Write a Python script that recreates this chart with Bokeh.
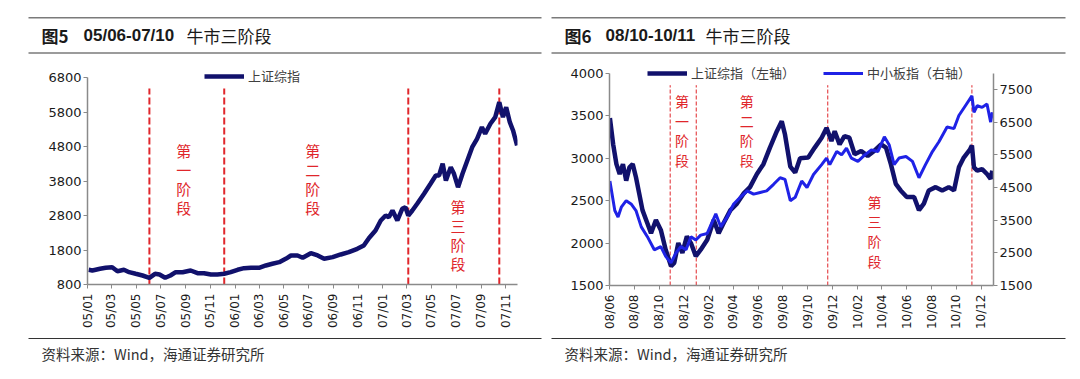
import pandas as pd
from bokeh.plotting import figure
from bokeh.models import Range1d, LinearAxis, FixedTicker, Legend, DatetimeTickFormatter
from bokeh.layouts import row, column
from bokeh.core.properties import value
from bokeh.embed import file_html
from bokeh.resources import INLINE

# ---------------- data: chart 5 (SSE composite 2005-2007) ----------------
sse_0507_dates = [
    "2005-01-04", "2005-01-13", "2005-02-01", "2005-02-15", "2005-03-03", "2005-03-16", "2005-04-01",
    "2005-04-14", "2005-04-30", "2005-05-17", "2005-06-03", "2005-06-17", "2005-06-28", "2005-07-12",
    "2005-07-25", "2005-08-07", "2005-08-24", "2005-09-13", "2005-09-30", "2005-10-16", "2005-11-02",
    "2005-11-18", "2005-12-05", "2005-12-21",
    "2006-01-07", "2006-01-23", "2006-02-09", "2006-03-01", "2006-03-18", "2006-04-03", "2006-04-20",
    "2006-05-06", "2006-05-19", "2006-06-04", "2006-06-17", "2006-07-07", "2006-07-24", "2006-08-09",
    "2006-08-30", "2006-09-19", "2006-10-09", "2006-10-30", "2006-11-15", "2006-11-28", "2006-12-14",
    "2006-12-27",
    "2007-01-08", "2007-01-16", "2007-01-25", "2007-02-06", "2007-02-18", "2007-02-26", "2007-03-05",
    "2007-03-15", "2007-03-27", "2007-04-13", "2007-04-29", "2007-05-12", "2007-05-20", "2007-05-29",
    "2007-06-06", "2007-06-18", "2007-06-26", "2007-07-06", "2007-07-17", "2007-07-29", "2007-08-10",
    "2007-08-22", "2007-09-03", "2007-09-11", "2007-09-24", "2007-10-06", "2007-10-16", "2007-10-25",
    "2007-11-02", "2007-11-11", "2007-11-19", "2007-11-29",
]
sse_0507_values = [
    1226, 1206, 1255, 1284, 1302, 1186, 1226, 1157, 1110, 1061, 994, 1110, 1090, 994,
    1061, 1157, 1157, 1206, 1128, 1128, 1090, 1090, 1110, 1157,
    1226, 1273, 1284, 1284, 1351, 1400, 1447, 1545, 1641, 1641, 1574, 1707, 1641, 1545,
    1593, 1670, 1736, 1835, 1931, 2150, 2365, 2655,
    2800, 2751, 2945, 2655, 2995, 3041, 2800, 2945, 3140, 3429, 3719, 3960, 3960, 4299,
    3815, 4201, 4009, 3621, 4009, 4395, 4780, 5024, 5360, 5169, 5459, 5650, 6085, 5650,
    5940, 5505, 5265, 4830,
]
chart5_x_ticks = ["05/01", "05/03", "05/05", "05/07", "05/09", "05/11",
                  "06/01", "06/03", "06/05", "06/07", "06/09", "06/11",
                  "07/01", "07/03", "07/05", "07/07", "07/09", "07/11"]
chart5_y_ticks = [800, 1800, 2800, 3800, 4800, 5800, 6800]
chart5_stage_dates = ["2005-06-03", "2005-12-05", "2007-03-05", "2007-10-16"]
stage_names = ["第一阶段", "第二阶段", "第三阶段"]

# ---------------- data: chart 6 (SSE vs SME board 2008-2010) ----------------
sse_0810_dates = [
    "2008-06-02", "2008-06-10", "2008-06-18", "2008-06-26", "2008-07-04", "2008-07-12", "2008-07-20",
    "2008-07-28", "2008-08-05", "2008-08-13", "2008-08-21", "2008-09-02", "2008-09-11", "2008-09-23",
    "2008-10-05", "2008-10-17", "2008-10-30", "2008-11-07", "2008-11-17", "2008-11-27", "2008-12-08",
    "2008-12-18", "2008-12-30",
    "2009-01-11", "2009-01-27", "2009-02-12", "2009-02-24", "2009-03-08", "2009-03-25", "2009-04-10",
    "2009-04-26", "2009-05-12", "2009-05-29", "2009-06-14", "2009-06-30", "2009-07-17", "2009-07-29",
    "2009-08-06", "2009-08-19", "2009-08-31", "2009-09-12", "2009-10-02", "2009-10-18", "2009-11-04",
    "2009-11-16", "2009-11-28", "2009-12-06", "2009-12-18", "2009-12-30",
    "2010-01-11", "2010-01-24", "2010-02-09", "2010-02-25", "2010-03-13", "2010-03-30", "2010-04-11",
    "2010-04-23", "2010-05-05", "2010-05-17", "2010-06-01", "2010-06-19", "2010-07-01", "2010-07-13",
    "2010-07-25", "2010-08-11", "2010-08-27", "2010-09-12", "2010-09-25", "2010-10-07", "2010-10-19",
    "2010-11-03", "2010-11-08", "2010-11-13", "2010-11-21", "2010-12-03", "2010-12-15", "2010-12-24",
    "2010-12-28",
]
sse_0810_values = [
    3473, 3163, 2930, 2814, 2930, 2736, 2892, 2930, 2775, 2582, 2388, 2233, 2116, 2271,
    2155, 1922, 1729, 1767, 2000, 1884, 2078, 2000, 1845,
    1922, 2039, 2271, 2116, 2233, 2388, 2465, 2582, 2659, 2814, 2930, 3125, 3318, 3434,
    3279, 2900, 2830, 3000, 3008, 3125, 3241, 3357, 3202, 3318, 3163, 3260,
    3241, 3047, 3085, 3027, 3085, 3163, 3125, 2930, 2698, 2620, 2543, 2543, 2388, 2465,
    2620, 2659, 2620, 2659, 2620, 2892, 3008, 3100, 3150, 2892, 2853, 2872, 2814, 2756,
    2853,
]
sme_0810_dates = [
    "2008-06-02", "2008-06-14", "2008-06-22", "2008-06-30", "2008-07-12", "2008-07-24", "2008-08-05",
    "2008-08-18", "2008-09-02", "2008-09-19", "2008-10-05", "2008-10-17", "2008-10-30", "2008-11-11",
    "2008-11-23", "2008-12-06", "2008-12-18", "2008-12-30",
    "2009-01-11", "2009-01-27", "2009-02-17", "2009-03-01", "2009-03-17", "2009-04-02", "2009-04-18",
    "2009-05-05", "2009-05-21", "2009-06-06", "2009-06-22", "2009-07-09", "2009-07-25", "2009-08-06",
    "2009-08-19", "2009-08-31", "2009-09-16", "2009-09-29", "2009-10-15", "2009-11-04", "2009-11-16",
    "2009-11-24", "2009-12-11", "2009-12-23",
    "2010-01-04", "2010-01-16", "2010-02-01", "2010-02-18", "2010-03-06", "2010-03-22", "2010-04-07",
    "2010-04-19", "2010-05-01", "2010-05-13", "2010-05-30", "2010-06-15", "2010-07-01", "2010-07-17",
    "2010-08-03", "2010-08-19", "2010-09-08", "2010-09-25", "2010-10-07", "2010-10-23", "2010-11-08",
    "2010-11-13", "2010-11-21", "2010-12-03", "2010-12-15", "2010-12-24", "2010-12-28",
]
sme_0810_values = [
    4700, 3797, 3598, 3899, 4098, 3998, 3797, 3297, 2996, 2593, 2693, 2394, 2192, 2493,
    2693, 2593, 2996, 2894,
    3044, 3095, 3697, 3297, 3598, 3998, 4200, 4399, 4299, 4350, 4399, 4600, 4802, 4751,
    4100, 4200, 4700, 4501, 4901, 5202, 5404, 5202, 5603, 5503,
    5705, 5404, 5302, 5503, 5654, 5603, 6054, 5804, 5202, 5404, 5454, 5302, 4802, 5202,
    5603, 5904, 6355, 6307, 6707, 7008, 7309, 6807, 7008, 6957, 7059, 6506, 6807,
]
chart6_x_ticks = ["08/06", "08/08", "08/10", "08/12", "09/02", "09/04", "09/06", "09/08",
                  "09/10", "09/12", "10/02", "10/04", "10/06", "10/08", "10/10", "10/12"]
chart6_left_ticks = [1500, 2000, 2500, 3000, 3500, 4000]
chart6_right_ticks = [1500, 2500, 3500, 4500, 5500, 6500, 7500]
chart6_right_max = 8000
chart6_stage_dates = ["2008-10-28", "2008-12-31", "2009-11-19", "2010-11-08"]

# ---------------- styling ----------------
CJK = "Noto Sans CJK SC"
TICK_FONT = "DejaVu Sans"
NAVY = "#11116c"
BLUE = "#1f22e6"
RED = "#e0262b"
AXIS = "#8a8a8a"


def tick_ts(labels):
    return [pd.Timestamp("20%s-%s-01" % (l[:2], l[3:])).timestamp() * 1000 for l in labels]


def style_axes(p):
    for ax in p.xaxis + p.yaxis:
        ax.axis_line_color = AXIS
        ax.axis_line_width = 1.5
        ax.major_tick_line_color = AXIS
        ax.major_tick_in = 0
        ax.major_tick_out = 4
        ax.minor_tick_line_color = None
        ax.major_label_text_font = TICK_FONT
        ax.major_label_text_color = "#1a1a1a"
    for ax in p.yaxis:
        ax.major_label_text_font_size = "13px"
        ax.major_label_standoff = 2
    for ax in p.xaxis:
        ax.major_label_text_font_size = "12px"
        ax.major_label_standoff = 5
        ax.major_label_orientation = 3.14159265 / 2
    p.grid.visible = False
    p.outline_line_color = None


def deco(width, height):
    f = figure(width=width, height=height, x_range=Range1d(0, width), y_range=Range1d(height, 0),
               x_axis_location=None, y_axis_location=None, min_border=0, frame_align=False,
               toolbar_location=None, output_backend="svg")
    f.grid.visible = False
    f.outline_line_color = None
    return f


def header(width, x0, x1, fig_label, period, tx):
    h = deco(width, 60)
    h.segment(x0=[x0, x0], x1=[x1, x1], y0=[17.2, 52.5], y1=[17.2, 52.5],
              line_color="#7a7a7a", line_width=1.6)
    h.text(x=[tx[0]], y=[35], text=[fig_label], text_font=value(CJK), text_font_size="17px",
           text_font_style="bold", text_baseline="middle", text_color="#1a1a1a")
    h.text(x=[tx[1]], y=[35], text=[period], text_font=value("Liberation Sans"), text_font_size="17px",
           text_font_style="bold", text_baseline="middle", text_color="#1a1a1a")
    h.text(x=[tx[2]], y=[35], text=["牛市三阶段"], text_font=value(CJK), text_font_size="17px",
           text_baseline="middle", text_color="#1a1a1a")
    return h


def footer(width, x0, x1, tx):
    f = deco(width, 47)
    f.segment(x0=[x0], x1=[x1], y0=[6], y1=[6], line_color="#333333", line_width=1)
    f.text(x=[tx], y=[21], text=["资料来源：Wind，海通证券研究所"], text_font=value(CJK),
           text_font_size="14.5px", text_baseline="middle", text_color="#333333")
    return f


def make_legend(items, loc, label_w, **kw):
    return Legend(items=items, location=loc, padding=0, margin=0,
                  glyph_width=40, glyph_height=16, label_height=16, label_width=label_w,
                  label_standoff=4, label_text_font=CJK, label_text_font_size="13px",
                  label_text_color="#404040", label_text_baseline="middle",
                  border_line_color=None, background_fill_alpha=0, **kw)


# ---------------- chart 5 ----------------
# frame reaches the top of the figure (17 px above 6800) so the legend is never clipped
y5_top = chart5_y_ticks[-1] + 17 * (chart5_y_ticks[-1] - chart5_y_ticks[0]) / 207
p1 = figure(width=544, height=272, x_axis_type="datetime",
            x_range=Range1d(pd.Timestamp("2005-01-01"), pd.Timestamp("2007-11-30")),
            y_range=Range1d(chart5_y_ticks[0], y5_top),
            min_border_left=87, min_border_right=27, min_border_top=0, min_border_bottom=48,
            frame_align=False, toolbar_location=None, output_backend="svg")
p1.xaxis.ticker = FixedTicker(ticks=tick_ts(chart5_x_ticks))
p1.xaxis.formatter = DatetimeTickFormatter(days="%y/%m", months="%y/%m", years="%y/%m")
p1.yaxis.ticker = FixedTicker(ticks=chart5_y_ticks)
p1.yaxis.bounds = (chart5_y_ticks[0], chart5_y_ticks[-1])
style_axes(p1)

d5 = pd.to_datetime(chart5_stage_dates)
p1.segment(x0=d5, x1=d5, y0=[800] * 4, y1=[6480] * 4, line_color=RED, line_width=2, line_dash="7 3")
r1 = p1.line(pd.to_datetime(sse_0507_dates), sse_0507_values, line_color=NAVY, line_width=4.5)
p1.text(x=pd.to_datetime(["2005-08-27", "2006-07-12", "2007-07-06"]), y=[4976, 4976, 3352],
        text=["\n".join(s) for s in stage_names], text_font=value(CJK), text_font_size="15px",
        text_line_height=0.9, text_align="center", text_baseline="top", text_color=RED)
p1.add_layout(make_legend([("上证综指", [r1])], (117, 199), 62))

# ---------------- chart 6 ----------------
l_lo, l_hi = chart6_left_ticks[0], chart6_left_ticks[-1]
r_lo, r_hi = chart6_right_ticks[0], chart6_right_max
p2 = figure(width=536, height=272, x_axis_type="datetime",
            x_range=Range1d(pd.Timestamp("2008-06-01"), pd.Timestamp("2010-12-31")),
            y_range=Range1d(l_lo, l_hi + 13 * (l_hi - l_lo) / 215),
            min_border_left=65, min_border_right=87, min_border_top=0, min_border_bottom=44,
            frame_align=False, toolbar_location=None, output_backend="svg")
p2.extra_y_ranges = {"sme": Range1d(r_lo, r_hi + 13 * (r_hi - r_lo) / 215)}
p2.add_layout(LinearAxis(y_range_name="sme", ticker=FixedTicker(ticks=chart6_right_ticks),
                         bounds=(r_lo, r_hi)), "right")
p2.xaxis.ticker = FixedTicker(ticks=tick_ts(chart6_x_ticks))
p2.xaxis.formatter = DatetimeTickFormatter(days="%y/%m", months="%y/%m", years="%y/%m")
p2.yaxis[0].ticker = FixedTicker(ticks=chart6_left_ticks)
p2.yaxis[0].bounds = (l_lo, l_hi)
style_axes(p2)

d6 = pd.to_datetime(chart6_stage_dates)
p2.segment(x0=d6, x1=d6, y0=[1500] * 4, y1=[3860] * 4, line_color=RED, line_width=1, line_dash="4 2")
r_sse = p2.line(pd.to_datetime(sse_0810_dates), sse_0810_values, line_color=NAVY, line_width=4.5)
r_sme = p2.line(pd.to_datetime(sme_0810_dates), sme_0810_values, line_color=BLUE, line_width=3,
                y_range_name="sme")
p2.text(x=pd.to_datetime(["2008-11-26", "2009-05-04", "2010-03-14"]), y=[3791, 3791, 2605],
        text=["\n".join(s) for s in stage_names], text_font=value(CJK), text_font_size="14px",
        text_line_height=0.98, text_align="center", text_baseline="top", text_color=RED)
p2.add_layout(make_legend([("上证综指（左轴）", [r_sse]), ("中小板指（右轴）", [r_sme])],
                          (38, 203), 112, orientation="horizontal", spacing=20))

# ---------------- layout ----------------
h1 = header(544, 28, 541, "图5", "05/06-07/10", (41, 83, 186))
h2 = header(536, 7, 521, "图6", "08/10-10/11", (20, 61, 161))
f1 = footer(544, 28, 541, 41)
f2 = footer(536, 7, 521, 20)

layout = row(column(h1, p1, f1), column(h2, p2, f2))
open("out.html", "w").write(file_html(layout, INLINE))
